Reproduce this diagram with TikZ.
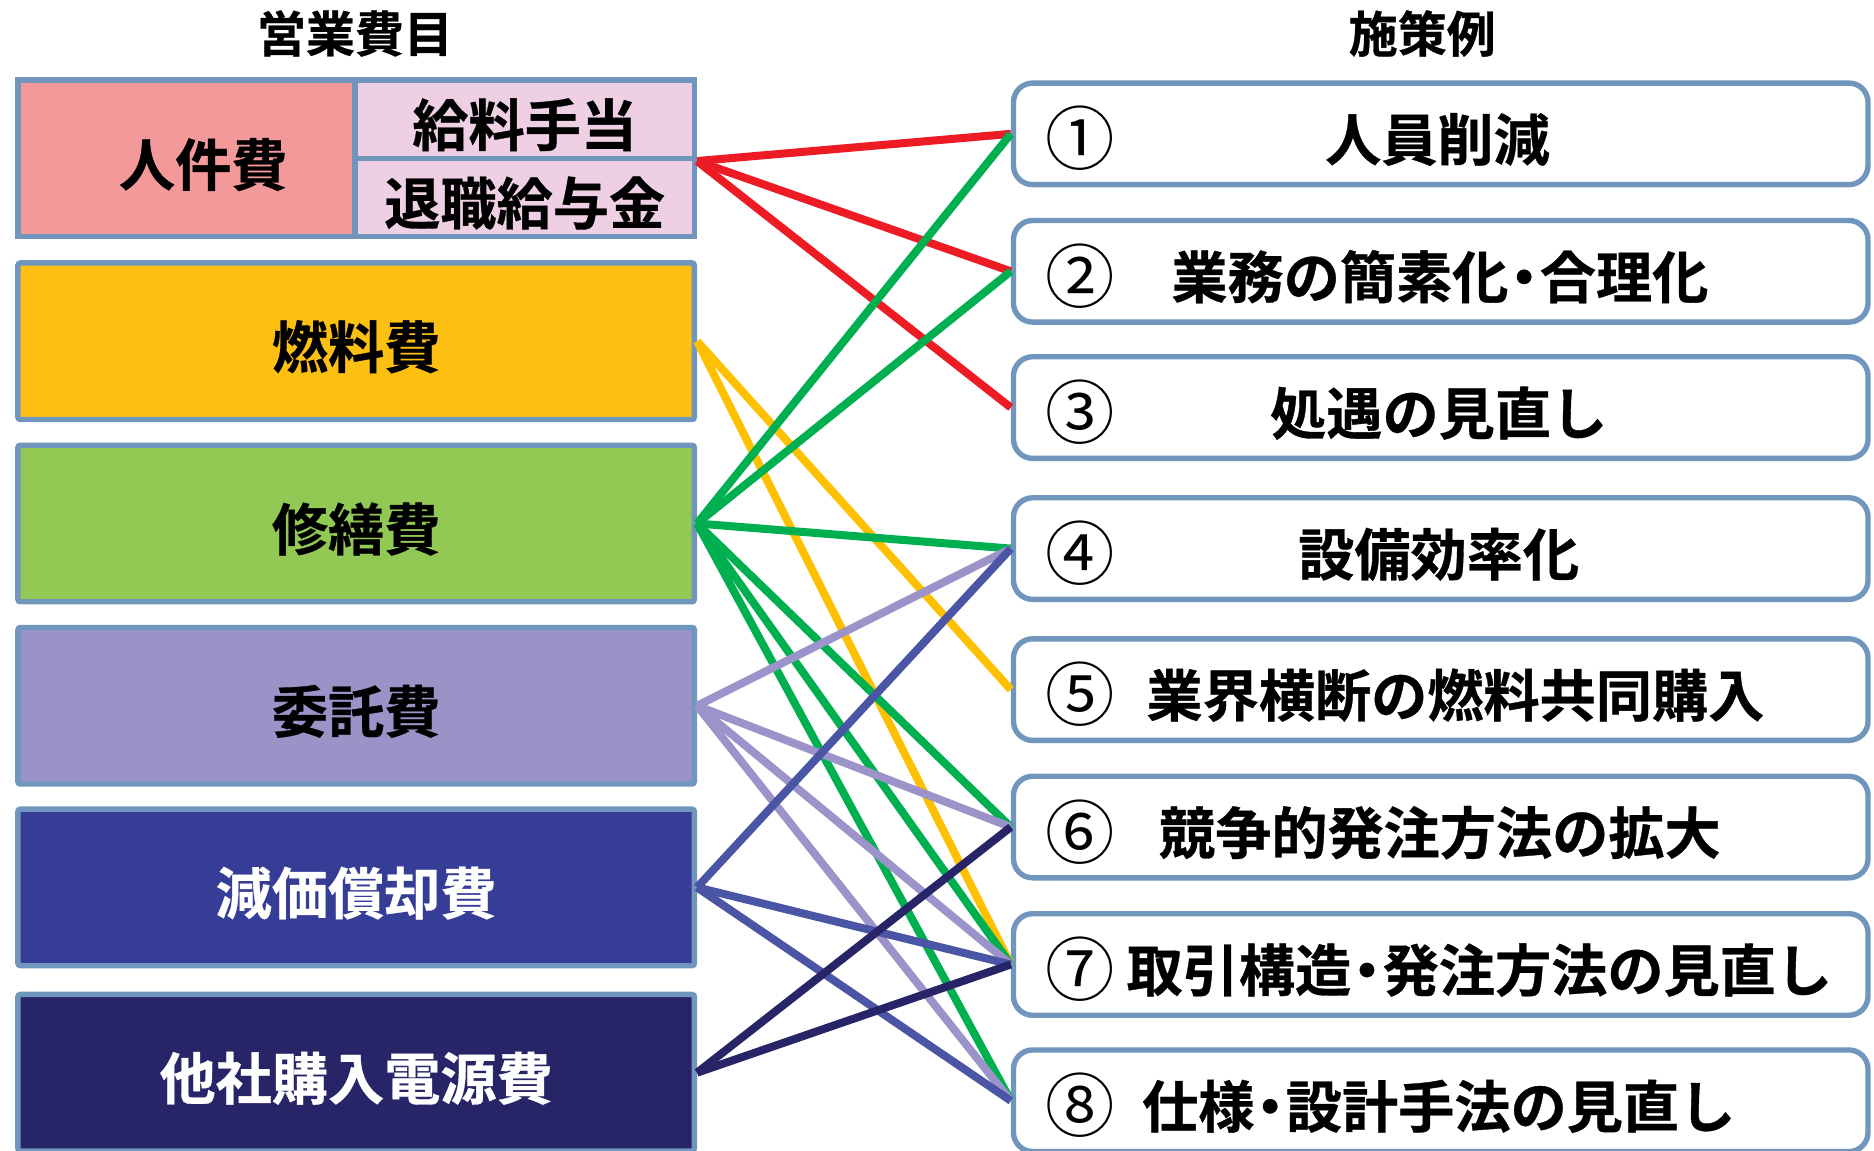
\documentclass[tikz,border=0pt]{standalone}
\usepackage{fontspec}
\usetikzlibrary{calc}
\newfontfamily\jp{Noto Sans CJK JP}[BoldFont={Noto Sans CJK JP Bold},BoldFeatures={FakeBold=0.6}]
\newcommand\nakaguro{\kern-.22em・\kern-.22em}
\definecolor{bordc}{RGB}{112,150,190}
\definecolor{jinken}{RGB}{244,153,154}
\definecolor{pinkl}{RGB}{239,207,227}
\definecolor{fuel}{RGB}{253,191,18}
\definecolor{repair}{RGB}{146,201,84}
\definecolor{consign}{RGB}{153,147,199}
\definecolor{deprec}{RGB}{54,61,150}
\definecolor{purch}{RGB}{39,36,104}
\definecolor{lred}{RGB}{237,28,36}
\definecolor{lgreen}{RGB}{0,176,80}
\definecolor{lamber}{RGB}{255,192,0}
\definecolor{llav}{RGB}{155,147,201}
\definecolor{lblue}{RGB}{75,85,165}
\definecolor{lnavy}{RGB}{39,36,104}
\tikzset{
  bigjp/.style={font=\jp\bfseries\fontsize{47}{50}\selectfont, text height=51pt, text depth=6pt},
  lbox/.style={draw=bordc, line width=4.5pt, rounded corners=2pt, minimum width=566pt, minimum height=131pt, inner sep=0pt, bigjp},
  sbox/.style={draw=bordc, line width=4.5pt, inner sep=0pt, bigjp},
  rbox/.style={draw=bordc, line width=4.5pt, fill=white, rounded corners=16pt, minimum width=715pt, minimum height=85pt, inner sep=0pt},
  num/.style={font=\jp\fontsize{58}{60}\selectfont, inner sep=0pt, text height=58pt, text depth=6pt},
  rtext/.style={bigjp, inner sep=0pt},
  ttl/.style={font=\jp\bfseries\fontsize{41}{44}\selectfont, inner sep=0pt},
  link/.style={line width=6.7pt},
}
\begin{document}
\begin{tikzpicture}[x=1pt,y=-1pt]
\useasboundingbox (0,0) rectangle (1568,963);
\begin{scope}
\clip (0,0) rectangle (1568,963);
% titles
\node[ttl] (t1) at (297,28) {営業費目};
\node[ttl] (t2) at (1190,28) {施策例};
% left boxes
\node[sbox, fill=jinken, minimum width=282pt, minimum height=131pt] (jk) at (156,132.5) {};
\node[bigjp] (jkt) at (170,133) {人件費};
\node[sbox, fill=pinkl, minimum width=284pt, minimum height=65.5pt] (kyu) at (439,99.75) {給料手当};
\node[sbox, fill=pinkl, minimum width=284pt, minimum height=65.5pt] (tai) at (439,165.25) {退職給与金};
\node[lbox, fill=fuel] (nen) at (298,285.5) {燃料費};
\node[lbox, fill=repair] (shu) at (298,438) {修繕費};
\node[lbox, fill=consign] (itaku) at (298,590.5) {委託費};
\node[lbox, fill=deprec, text=white] (gen) at (298,742.5) {減価償却費};
\node[lbox, fill=purch, text=white] (ta) at (298,897.5) {他社購入電源費};
% right boxes
\foreach \i/\y in {1/112,2/227,3/341,4/459,5/577,6/692,7/807,8/921}{
  \node[rbox] (r\i) at (1205.5,\y) {};
}
\foreach \i/\c in {1/①,2/②,3/③,4/④,5/⑤,6/⑥,7/⑦,8/⑧}{
  \node[num] (n\i) at ($(r\i.west)+(58,0)$) {\c};
}
\node[rtext] (s1) at ($(r1.west)+(357,0)$) {人員削減};
\node[rtext] (s2) at ($(r2.west)+(359,0)$) {業務の簡素化\nakaguro 合理化};
\node[rtext] (s3) at ($(r3.west)+(358,0)$) {処遇の見直し};
\node[rtext] (s4) at ($(r4.west)+(358,0)$) {設備効率化};
\node[rtext] (s5) at ($(r5.west)+(372,0)$) {業界横断の燃料共同購入};
\node[rtext] (s6) at ($(r6.west)+(359,0)$) {競争的発注方法の拡大};
\node[rtext] (s7) at ($(r7.west)+(392,0)$) {取引構造\nakaguro 発注方法の見直し};
\node[rtext] (s8) at ($(r8.west)+(358,0)$) {仕様\nakaguro 設計手法の見直し};
% links
\draw[link,lred] (kyu.south east) -- (r1.west);
\draw[link,lred] (kyu.south east) -- (r2.west);
\draw[link,lred] (kyu.south east) -- (r3.west);
\draw[link,lamber] (nen.east) -- (r5.west);
\draw[link,lamber] (nen.east) -- (r7.west);
\foreach \i in {1,2,4,6,7,8}{\draw[link,lgreen] (shu.east) -- (r\i.west);}
\foreach \i in {4,6,7,8}{\draw[link,llav] (itaku.east) -- (r\i.west);}
\foreach \i in {4,7,8}{\draw[link,lblue] (gen.east) -- (r\i.west);}
\foreach \i in {6,7}{\draw[link,lnavy] (ta.east) -- (r\i.west);}
\end{scope}
\end{tikzpicture}
\end{document}
